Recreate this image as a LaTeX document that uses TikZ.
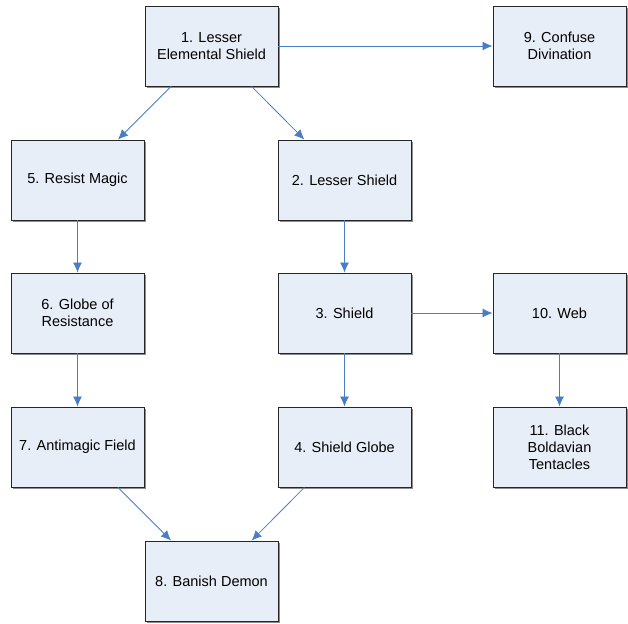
\documentclass[tikz,border=0pt]{standalone}
\usepackage{fontspec}
\setmainfont{Liberation Sans}
\usetikzlibrary{arrows.meta,shadows}
\definecolor{boxfill}{HTML}{E8EEF8}
\definecolor{linkblue}{HTML}{4A7EC4}
\begin{document}
\begin{tikzpicture}[x=1pt,y=-1pt,every node/.style={font=\fontsize{14.5}{17}\selectfont},line width=0.9pt]
\tikzset{spell/.style={draw=black!85,fill=boxfill,align=center,minimum width=133pt,minimum height=80pt,inner sep=2pt,drop shadow={shadow xshift=1.6pt,shadow yshift=-1.6pt,fill=black!45,opacity=1}}, link/.style={draw=linkblue,-{Latex[length=10pt,width=9pt]},line width=0.8pt}}
\useasboundingbox (0,0) rectangle (628,623);
\node[spell] (lesserelem) at (211.5,46) {1. Lesser\\Elemental Shield};
\node[spell] (confuse) at (559.5,46) {9. Confuse\\Divination};
\node[spell] (resist) at (77.5,180) {5. Resist Magic};
\node[spell] (lesser) at (344.5,180) {2. Lesser Shield};
\node[spell] (globe) at (77.5,313) {6. Globe of\\Resistance};
\node[spell] (shield) at (344.5,313) {3. Shield};
\node[spell] (web) at (559.5,313) {10. Web};
\node[spell] (antimagic) at (77.5,447) {7. Antimagic Field};
\node[spell] (shieldglobe) at (344.5,447) {4. Shield Globe};
\node[spell] (tentacles) at (559.5,447) {11. Black\\Boldavian\\Tentacles};
\node[spell] (banish) at (211.5,581) {8. Banish Demon};
\draw[link] (lesserelem) -- (confuse);
\draw[link] (lesserelem) -- (resist);
\draw[link] (lesserelem) -- (lesser);
\draw[link] (resist) -- (globe);
\draw[link] (globe) -- (antimagic);
\draw[link] (antimagic) -- (banish);
\draw[link] (lesser) -- (shield);
\draw[link] (shield) -- (shieldglobe);
\draw[link] (shieldglobe) -- (banish);
\draw[link] (shield) -- (web);
\draw[link] (web) -- (tentacles);
\end{tikzpicture}
\end{document}
